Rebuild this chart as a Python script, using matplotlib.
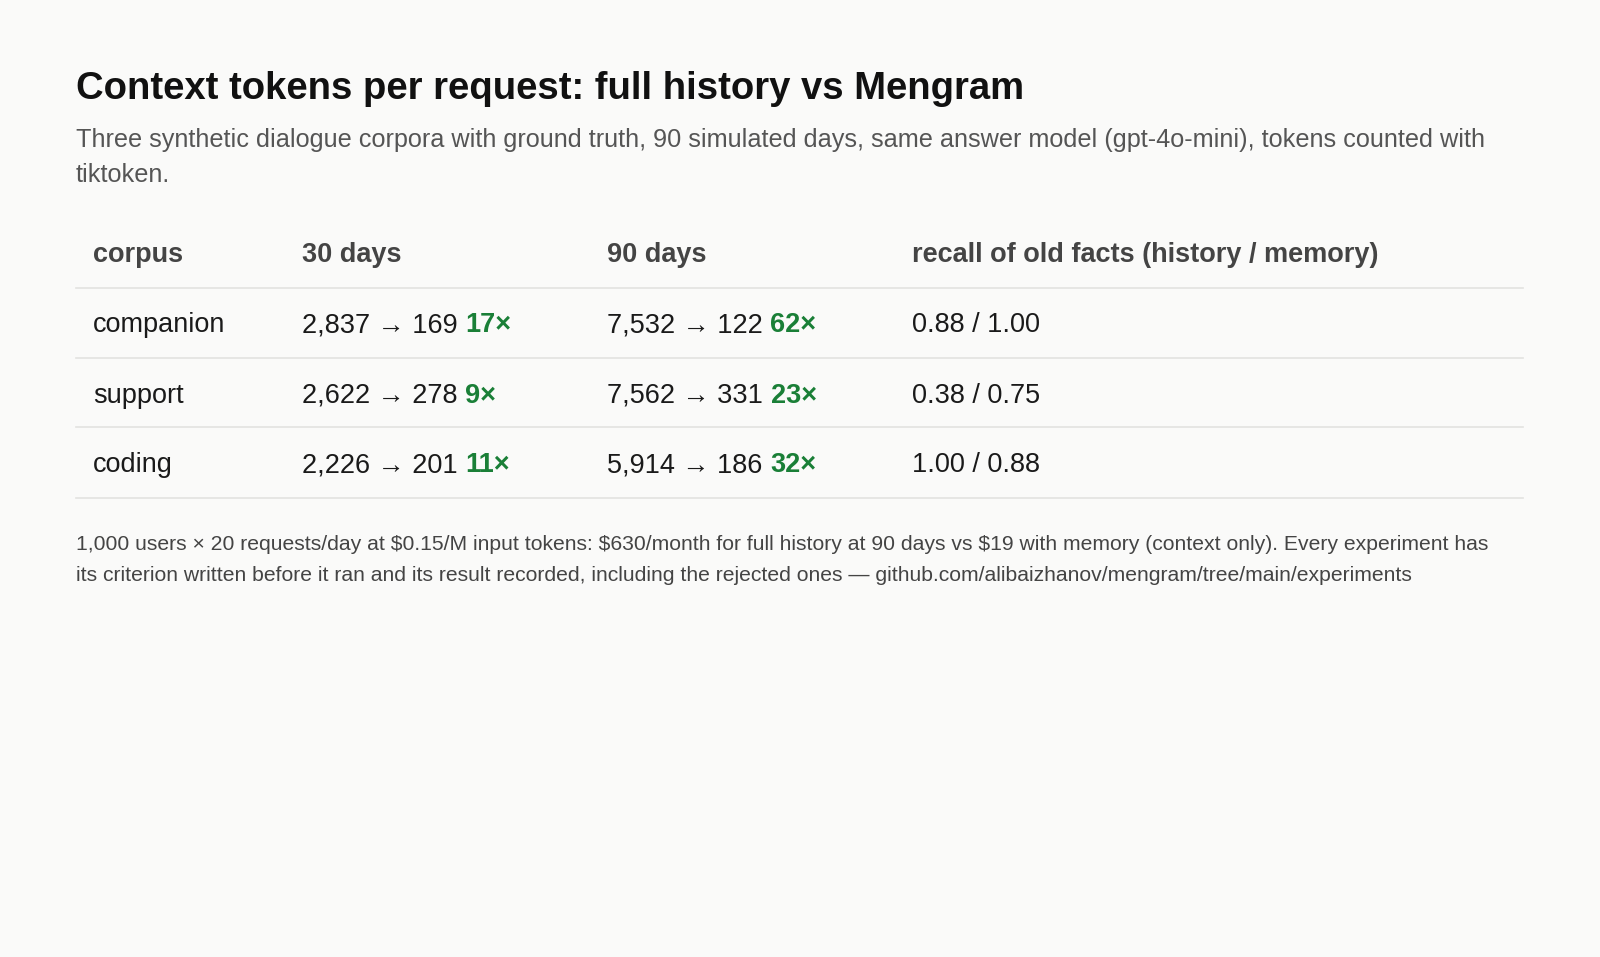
import matplotlib
matplotlib.use("Agg")
import matplotlib.pyplot as plt
from matplotlib.lines import Line2D

corpora = ["companion", "support", "coding"]
full30 = ["2,837", "2,622", "2,226"]
mem30 = ["169", "278", "201"]
ratio30 = ["17×", "9×", "11×"]
full90 = ["7,532", "7,562", "5,914"]
mem90 = ["122", "331", "186"]
ratio90 = ["62×", "23×", "32×"]
recall = ["0.88 / 1.00", "0.38 / 0.75", "1.00 / 0.88"]
headers = ["corpus", "30 days", "90 days", "recall of old facts (history / memory)"]

W, H = 1568, 938
fam = ["Liberation Sans", "DejaVu Sans"]
fig = plt.figure(figsize=(16, 9.57), dpi=100)
fig.patch.set_facecolor("#fafaf9")

def X(x): return x / W
def Y(y): return 1 - (y + 3) / H

fig.text(X(74), Y(84), "Context tokens per request: full history vs Mengram", fontsize=27.5,
         fontweight="bold", color="#111111", va="center", family=fam)
fig.text(X(74), Y(134), "Three synthetic dialogue corpora with ground truth, 90 simulated days, same answer model (gpt-4o-mini), tokens counted with",
         fontsize=18.2, color="#555555", va="center", family=fam)
fig.text(X(74), Y(169), "tiktoken.", fontsize=18.2, color="#555555", va="center", family=fam)

cols = [91, 296, 595, 894]
for cx, h in zip(cols, headers):
    fig.text(X(cx), Y(247), h, fontsize=19.5, fontweight="bold", color="#444444", va="center", family=fam)
for ly in [282, 351, 419, 488]:
    fig.add_artist(Line2D([X(74), X(1493)], [1 - ly / H, 1 - ly / H], color="#e2e2e0", lw=1.2))

fig.canvas.draw()
r = fig.canvas.get_renderer()

def pair(x, y, a, b):
    t = fig.text(X(x), Y(y), a + " ", fontsize=19.5, color="#1a1a1a", va="center", family=fam)
    bb = t.get_window_extent(renderer=r)
    fig.text(bb.x1 / fig.bbox.width, Y(y), b, fontsize=19.5, fontweight="bold", color="#1a7f37",
             va="center", family=fam)

rows_y = [316, 385, 453]
for i, y in enumerate(rows_y):
    fig.text(X(cols[0]), Y(y), corpora[i], fontsize=19.5, color="#1a1a1a", va="center", family=fam)
    pair(cols[1], y, f"{full30[i]} → {mem30[i]}", ratio30[i])
    pair(cols[2], y, f"{full90[i]} → {mem90[i]}", ratio90[i])
    fig.text(X(cols[3]), Y(y), recall[i], fontsize=19.5, color="#1a1a1a", va="center", family=fam)

fig.text(X(74), Y(531), "1,000 users × 20 requests/day at $0.15/M input tokens: $630/month for full history at 90 days vs $19 with memory (context only). Every experiment has",
         fontsize=15.2, color="#444444", va="center", family=fam)
fig.text(X(74), Y(561), "its criterion written before it ran and its result recorded, including the rejected ones — github.com/alibaizhanov/mengram/tree/main/experiments",
         fontsize=15.2, color="#444444", va="center", family=fam)

fig.savefig("out.png", dpi=100, facecolor=fig.get_facecolor())
